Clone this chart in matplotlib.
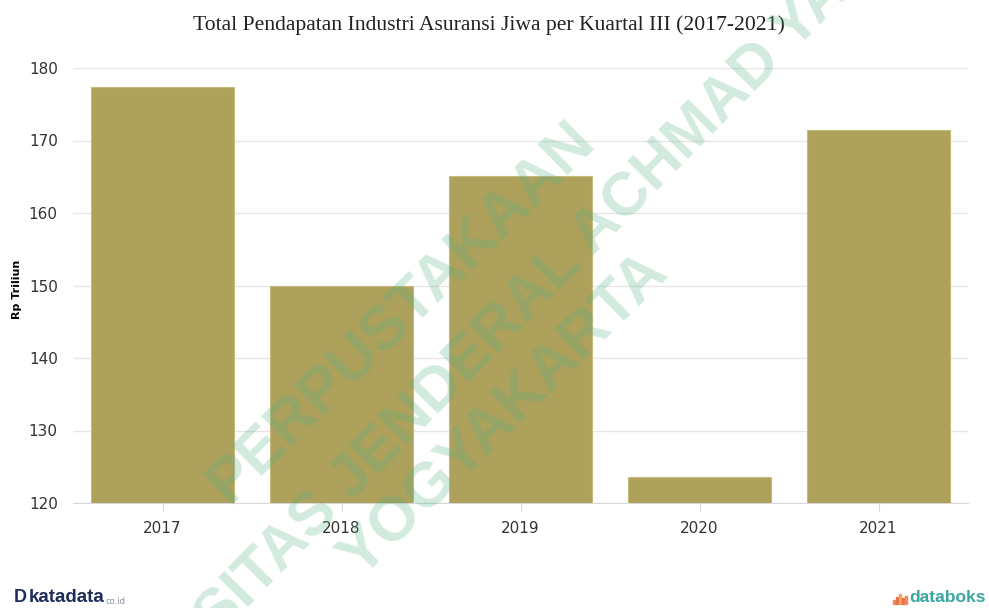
import matplotlib
matplotlib.use("Agg")
import matplotlib.pyplot as plt
from matplotlib.patches import Rectangle

years = ["2017", "2018", "2019", "2020", "2021"]
values = [177.4, 149.9, 165.1, 123.6, 171.4]
yticks = [120, 130, 140, 150, 160, 170, 180]

W, H = 989, 608
fig = plt.figure(figsize=(W / 100, H / 100), dpi=100)
ax = fig.add_axes([73 / W, (H - 503) / H, (968 - 73) / W, (503 - 68) / H])

x = range(len(years))
ax.bar(x, values, width=0.8, color="#ada15c", edgecolor="#c4ba7e", linewidth=0.8, zorder=3)
ax.set_xlim(-0.5, len(years) - 0.5)
ax.set_ylim(120, 180)
ax.set_yticks(yticks)
ax.set_xticks(list(x))
ax.set_xticklabels(years)
ax.grid(axis="y", color="#e6e6e6", linewidth=1, zorder=0)
for s in ["top", "right", "left"]:
    ax.spines[s].set_visible(False)
ax.spines["bottom"].set_color("#d8d8d8")
ax.tick_params(axis="y", length=0, pad=11, labelsize=11, labelcolor="#333333")
ax.tick_params(axis="x", length=6, color="#d8d8d8", pad=7, labelsize=11, labelcolor="#333333")
ax.set_ylabel("Rp Triliun", fontsize=8, fontweight="bold")
ax.yaxis.set_label_coords(-0.057, 0.49)

fig.text(489 / W, 1 - 25 / H, "Total Pendapatan Industri Asuransi Jiwa per Kuartal III (2017-2021)",
         ha="center", va="center", family="Liberation Serif", fontsize=15.6, color="#222222")

wm = dict(color="#53b182", alpha=0.26, fontweight="bold", ha="center", va="center",
          family="Liberation Sans", zorder=10)
fig.text(402 / W, 1 - 312 / H, "PERPUSTAKAAN", fontsize=45, rotation=44.5, **wm)
fig.text(464 / W, 1 - 366 / H, "UNIVERSITAS JENDERAL ACHMAD YANI", fontsize=44, rotation=45.5, **wm)
fig.text(505 / W, 1 - 415 / H, "YOGYAKARTA", fontsize=45, rotation=44.5, **wm)

fig.text(14 / W, 1 - 598 / H, "D", fontsize=13, fontweight="bold", color="#1f2d5a", va="center",
         family="Liberation Sans")
fig.text(29 / W, 1 - 598 / H, "katadata", fontsize=13.5, fontweight="bold", color="#1f2d5a",
         va="center", family="Liberation Sans")
fig.text(106 / W, 1 - 601 / H, "co.id", fontsize=6, color="#8a8fa3", va="center")

# databoks icon: small vertical bars
icon = [(893, 4, "#f08a5d"), (896, 7, "#e8734a"), (899, 10, "#f5a25d"), (902, 6, "#e8734a"), (905, 8, "#f08a5d")]
for px, h, c in icon:
    fig.add_artist(Rectangle((px / W, (H - 604) / H), 1.6 / W, h / H, color=c, transform=fig.transFigure))
fig.text(909 / W, 1 - 598 / H, "databoks", fontsize=12.5, fontweight="bold", color="#3aa6a0",
         va="center", family="Liberation Sans")

fig.savefig("out.png", dpi=100)
